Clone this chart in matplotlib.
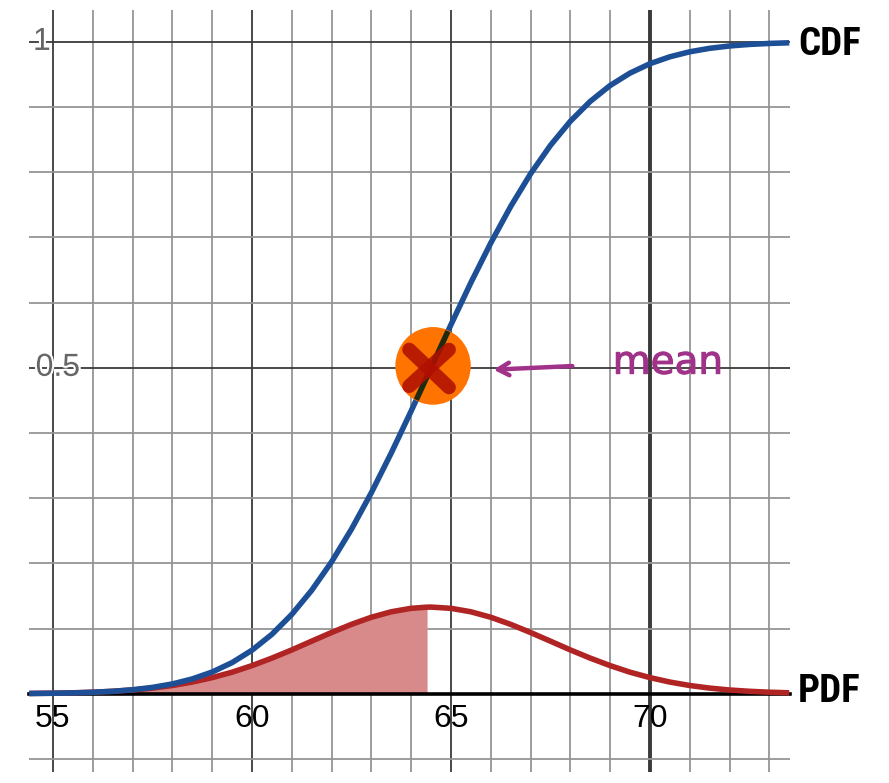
import numpy as np
import matplotlib
matplotlib.use("Agg")
import matplotlib.pyplot as plt
from matplotlib.patches import Ellipse
import matplotlib.patheffects as pe

# values (x in units, curves in probability)
x = [54.4, 55.0, 55.5, 56.0, 56.5, 57.0, 57.5, 58.0, 58.5, 59.0, 59.5,
     60.0, 60.5, 61.0, 61.5, 62.0, 62.5, 63.0, 63.5, 64.0, 64.4, 64.5,
     65.0, 65.5, 66.0, 66.5, 67.0, 67.5, 68.0, 68.5, 69.0, 69.5, 70.0,
     70.5, 71.0, 71.5, 72.0, 72.5, 73.0, 73.5]
cdf = [0.0004, 0.0008, 0.0013, 0.0023, 0.0038, 0.0062, 0.0098, 0.0151,
       0.0228, 0.0334, 0.0478, 0.0668, 0.0912, 0.1217, 0.1587, 0.2023,
       0.2525, 0.3085, 0.3694, 0.4338, 0.4867, 0.5000, 0.5662, 0.6306,
       0.6915, 0.7475, 0.7977, 0.8413, 0.8783, 0.9088, 0.9332, 0.9522,
       0.9666, 0.9772, 0.9849, 0.9902, 0.9938, 0.9962, 0.9977, 0.9987]
pdf = [0.0005, 0.0009, 0.0015, 0.0024, 0.0038, 0.0058, 0.0087, 0.0127,
       0.0180, 0.0248, 0.0331, 0.0432, 0.0547, 0.0673, 0.0807, 0.0940,
       0.1065, 0.1174, 0.1258, 0.1311, 0.1329, 0.1330, 0.1311, 0.1258,
       0.1174, 0.1065, 0.0940, 0.0807, 0.0673, 0.0547, 0.0432, 0.0331,
       0.0248, 0.0180, 0.0127, 0.0087, 0.0058, 0.0038, 0.0024, 0.0015]
shade_to = 64.4
x_ticks = [55, 60, 65, 70]
y_labels = {1.0: "1", 0.5: "0.5"}

x = np.array(x)
cdf = np.array(cdf)
pdf = np.array(pdf)

fig = plt.figure(figsize=(8.89, 7.83), dpi=100)
ax = fig.add_axes([29 / 889, 11 / 783, 761 / 889, 762 / 783])
ax.set_xlim(54.397, 73.52)
ax.set_ylim(-0.12, 1.049)

for s in ["top", "right", "left"]:
    ax.spines[s].set_visible(False)
ax.spines["bottom"].set_position(("data", 0))
ax.spines["bottom"].set_linewidth(2.6)
ax.spines["bottom"].set_zorder(3)

ax.set_xticks(x_ticks)
ax.set_xticks(np.arange(55, 74, 1), minor=True)
ax.set_yticks([0.5, 1.0])
ax.set_yticks(np.arange(-0.1, 1.05, 0.1), minor=True)
ax.tick_params(which="both", length=0)
ax.tick_params(axis="x", labelsize=23, pad=7, labelcolor="black")
ax.set_yticklabels([])
for lab in ax.get_xticklabels():
    lab.set_fontfamily(["Liberation Sans", "DejaVu Sans"])
ax.grid(which="minor", color="#959595", lw=1.3)
ax.grid(which="major", color="#3a3a3a", lw=1.3)
ax.set_axisbelow(True)
ax.get_xgridlines()[3].set_linewidth(2.8)

for yv, txt in y_labels.items():
    ax.text(54.72 if txt == "1" else 55.12, yv, txt, ha="center", va="center",
            fontsize=23, color="#666666", family=["Liberation Sans", "DejaVu Sans"],
            path_effects=[pe.withStroke(linewidth=3, foreground="white")], zorder=4)

m = x <= shade_to
ax.fill_between(x[m], 0, pdf[m], color="#d88a8a", lw=0, zorder=2)
ax.plot(x, pdf, color="#b02424", lw=4, zorder=4, solid_capstyle="butt",
        solid_joinstyle="round")
ax.plot(x, cdf, color="#1c4f96", lw=4, zorder=5, solid_capstyle="butt",
        solid_joinstyle="round")

blob = Ellipse((64.55, 0.503), 1.86, 0.117, color="#ff7300", zorder=6)
ax.add_patch(blob)
dark, = ax.plot(x, cdf, color="#1f2a12", lw=4, zorder=7)
dark.set_clip_path(blob)

ax.plot([63.95, 64.95], [0.528, 0.47], color="#b01000", lw=10, alpha=0.88,
        solid_capstyle="round", zorder=8)
ax.plot([64.95, 63.95], [0.528, 0.472], color="#b01000", lw=10, alpha=0.88,
        solid_capstyle="round", zorder=8)

ax.annotate("", xy=(66.0, 0.497), xytext=(68.12, 0.503),
            arrowprops=dict(arrowstyle="->,head_length=0.8,head_width=0.45",
                            color="#a0328a", lw=3.2), zorder=8)
ax.text(70.45, 0.508, "mean", ha="center", va="center", fontsize=28,
        color="#a0328a", zorder=8,
        path_effects=[pe.withStroke(linewidth=0.8, foreground="#a0328a")])

lab_font = ["Roboto Condensed", "Liberation Sans Narrow", "Liberation Sans"]
ax.text(73.72, 0.996, "CDF", ha="left", va="center", fontsize=28,
        fontweight="bold", family=lab_font, clip_on=False)
ax.text(73.72, 0.004, "PDF", ha="left", va="center", fontsize=28,
        fontweight="bold", family=lab_font, clip_on=False)

fig.savefig("out.png", dpi=100)
